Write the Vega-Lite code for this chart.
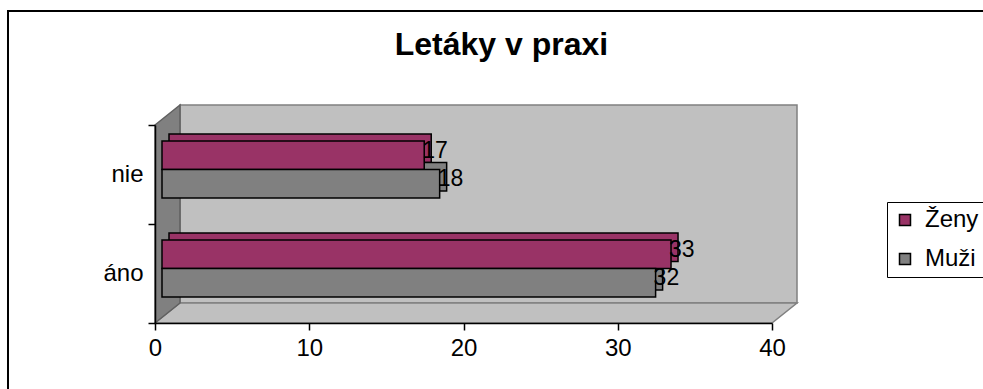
{
  "$schema": "https://vega.github.io/schema/vega-lite/v6.json",
  "width": 617,
  "height": 198,
  "autosize": "none",
  "padding": {"left": 155, "top": 125, "right": 211, "bottom": 66},
  "background": "white",
  "config": {"view": {"stroke": null}, "font": "Liberation Sans"},
  "data": {
    "values": [
      {"kat": "nie", "pohlavie": "Ženy", "pocet": 17},
      {"kat": "nie", "pohlavie": "Muži", "pocet": 18},
      {"kat": "áno", "pohlavie": "Ženy", "pocet": 33},
      {"kat": "áno", "pohlavie": "Muži", "pocet": 32}
    ]
  },
  "layer": [
    {
      "data": {"values": [{}]},
      "layer": [
        {
          "mark": {"type": "rect", "filled": false, "stroke": "black", "strokeWidth": 2},
          "encoding": {
            "x": {"datum": -9.53, "type": "quantitative",
              "scale": {"domain": [0, 40], "nice": false, "zero": false},
              "axis": {"values": [0, 10, 20, 30, 40], "tickSize": 7, "labelPadding": 6, "labelFontSize": 24, "labelFont": "Liberation Sans", "labelColor": "black", "domainColor": "black", "tickColor": "black", "domainWidth": 1.5, "tickWidth": 1.5, "grid": false, "title": null, "zindex": 1, "labelFlush": false, "labelOverlap": false}},
            "x2": {"datum": 54.78},
            "y": {"datum": 15.76, "type": "quantitative", "scale": {"domain": [0, 10], "nice": false, "zero": false}, "axis": null},
            "y2": {"datum": -3.89}
          }
        },
        {
          "mark": {"type": "rect", "fill": "#C0C0C0", "stroke": "#808080", "strokeWidth": 1.5},
          "encoding": {
            "x": {"datum": 1.621, "type": "quantitative"},
            "x2": {"datum": 41.621},
            "y": {"datum": 1.01, "type": "quantitative"},
            "y2": {"datum": 11.01}
          }
        },
        {
          "mark": {"type": "point", "shape": "M-1,0.0312L-0.9221,-0.0312L1,-0.0312L0.9221,0.0312Z", "size": 412164, "filled": true, "fill": "#C0C0C0", "stroke": "#808080", "strokeWidth": 1.5, "opacity": 1},
          "encoding": {
            "x": {"datum": 20.81, "type": "quantitative"},
            "y": {"datum": 0.505, "type": "quantitative"}
          }
        },
        {
          "mark": {"type": "point", "shape": "M-0.1147,-0.8165L0.1147,-1L0.1147,0.8165L-0.1147,1Z", "size": 47524, "filled": true, "fill": "#808080", "stroke": "#606060", "strokeWidth": 1.5, "opacity": 1},
          "encoding": {
            "x": {"datum": 0.81, "type": "quantitative"},
            "y": {"datum": 5.505, "type": "quantitative"}
          }
        },
        {
          "mark": {"type": "text", "text": "Letáky v praxi", "fontSize": 32, "fontWeight": "bold", "font": "Liberation Sans", "align": "center", "baseline": "alphabetic", "color": "black"},
          "encoding": {
            "x": {"datum": 22.46, "type": "quantitative"},
            "y": {"datum": 13.535, "type": "quantitative"}
          }
        }
      ]
    },
    {
      "mark": {"type": "bar", "stroke": "black", "strokeWidth": 1.5, "opacity": 1},
      "encoding": {
        "x": {"field": "pocet", "type": "quantitative", "stack": null, "scale": {"domain": [-0.908, 39.092], "nice": false, "zero": false}, "axis": null},
        "x2": {"datum": 0},
        "y": {"field": "kat", "type": "nominal", "sort": ["nie", "áno"], "scale": {"paddingInner": 0, "paddingOuter": 0}, "axis": null},
        "yOffset": {"field": "pohlavie", "type": "nominal", "sort": ["Ženy", "Muži"], "scale": {"paddingInner": 0, "paddingOuter": 0.737, "align": 0.214}},
        "color": {"field": "pohlavie", "type": "nominal", "scale": {"domain": ["Ženy", "Muži"], "range": ["#993366", "#808080"]}}
      }
    },
    {
      "mark": {"type": "bar", "stroke": "black", "strokeWidth": 1.5, "opacity": 1},
      "encoding": {
        "x": {"field": "pocet", "type": "quantitative", "stack": null, "scale": {"domain": [-0.454, 39.546], "nice": false, "zero": false}, "axis": null},
        "x2": {"datum": 0},
        "y": {"field": "kat", "type": "nominal", "sort": ["nie", "áno"], "scale": {"paddingInner": 0, "paddingOuter": 0},
          "axis": {"orient": "left", "title": null, "tickBand": "extent", "tickSize": 7, "labelPadding": 5, "labelFontSize": 24, "labelFont": "Liberation Sans", "labelColor": "black", "domainColor": "black", "tickColor": "black", "domainWidth": 1.5, "tickWidth": 1.5, "zindex": 1, "labelAngle": 0, "grid": false}},
        "yOffset": {"field": "pohlavie", "type": "nominal", "sort": ["Ženy", "Muži"], "scale": {"paddingInner": 0, "paddingOuter": 0.737, "align": 0.38}},
        "color": {"field": "pohlavie", "type": "nominal", "scale": {"domain": ["Ženy", "Muži"], "range": ["#993366", "#808080"]},
          "legend": {"orient": "none", "legendX": 732, "legendY": 77, "title": null, "direction": "vertical", "strokeColor": "black", "fillColor": "white", "padding": 6, "symbolType": "square", "symbolSize": 121, "symbolStrokeColor": "black", "symbolStrokeWidth": 1.5, "symbolOpacity": 1, "labelFontSize": 24, "labelFont": "Liberation Sans", "labelColor": "black", "rowPadding": 15, "labelOffset": 8, "labelLimit": 200}}
      }
    },
    {
      "mark": {"type": "text", "align": "left", "baseline": "middle", "dx": -2, "fontSize": 23, "font": "Liberation Sans", "color": "black"},
      "encoding": {
        "x": {"field": "pocet", "type": "quantitative", "stack": null, "scale": {"domain": [-0.454, 39.546], "nice": false, "zero": false}, "axis": null},
        "y": {"field": "kat", "type": "nominal", "sort": ["nie", "áno"], "scale": {"type": "band", "paddingInner": 0, "paddingOuter": 0}, "axis": null},
        "yOffset": {"field": "pohlavie", "type": "nominal", "sort": ["Ženy", "Muži"], "scale": {"type": "band", "paddingInner": 0, "paddingOuter": 0.737, "align": 0.27}},
        "text": {"field": "pocet", "type": "quantitative"}
      }
    }
  ],
  "resolve": {"scale": {"x": "independent", "y": "independent", "yOffset": "independent"}}
}
